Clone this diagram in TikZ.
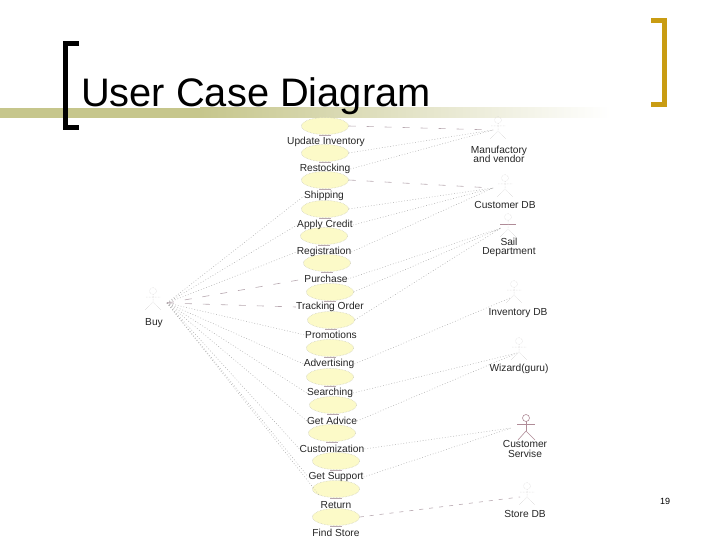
\documentclass[tikz,border=0pt]{standalone}
\usepackage{fontspec}
\setmainfont{Liberation Sans}
\definecolor{band}{HTML}{C6C68C}
\definecolor{gold}{HTML}{C99C12}
\definecolor{ucfill}{HTML}{FCFAC8}
\definecolor{ucline}{HTML}{C8C8B4}
\definecolor{dotline}{HTML}{ABABAB}
\definecolor{dashline}{HTML}{B8A8B0}
\definecolor{actorfaint}{HTML}{D8D6D6}
\definecolor{actorpink}{HTML}{B08C98}
\tikzset{
  usecase/.style={ellipse,draw=ucline,densely dotted,line width=.5pt,fill=ucfill,minimum width=47pt,minimum height=17pt,inner sep=0pt},
  uclabel/.style={font=\fontsize{10.2}{10.2}\selectfont,inner sep=0pt,text=black!85,align=center},
  dotlink/.style={draw=dotline,line width=.5pt,dash pattern=on .8pt off 2pt},
  dashlink/.style={draw=dashline,line width=.6pt,dash pattern=on 7pt off 11pt},
  tick/.style={draw=dashline,line width=.6pt},
  actorbody/.style={draw=actorfaint,line width=.5pt,densely dotted},
  actorstrong/.style={draw=actorpink,line width=.6pt},
}
\usetikzlibrary{shapes.geometric}
\newcommand{\stick}[3]{% name, x, y of the body's top
  \draw[actorbody] (#2,#3-5) circle (3.5);
  \draw[actorbody] (#2,#3-1.5) -- (#2,#3+6) (#2-7,#3+1) -- (#2+7,#3+1)
     (#2,#3+6) -- (#2-8,#3+14) (#2,#3+6) -- (#2+8,#3+14);
}
\begin{document}
\begin{tikzpicture}[x=1pt,y=-1pt]
\useasboundingbox (0,0) rectangle (720,540);
\fill[white] (0,0) rectangle (720,540);
% banner
\fill[band] (0,108) rectangle (200,118);
\shade[left color=band,right color=white,draw=none] (200,108) rectangle (610,118);
% brackets
\draw[black,line width=5pt] (79,44) -- (65.5,44) -- (65.5,128) -- (79,128);
\draw[gold,line width=5pt] (651,20.5) -- (664,20.5) -- (664,104.5) -- (651,104.5);
\node[anchor=base west,inner sep=0pt,font=\fontsize{39.8}{39.8}\selectfont] (title) at (81,107) {User Case Diagram};
\node[inner sep=0pt,font=\fontsize{9}{9}\selectfont] (pageno) at (665,501) {19};
% use cases
\foreach \n/\x/\y in {a/325/126,b/325/153,c/325/180,d/325/209,e/324/236,f/327/263,g/330/292,h/331/320,i/330/348,j/330/377,k/333/405,l/332/433,m/336/461,n/336/489,o/336/517}{
  \node[usecase] (\n) at (\x,\y) {};
  \draw[tick] (\x-6,\y+9) -- (\x+6,\y+9);
}
\node[uclabel] (la) at (326,142) {Update Inventory};
\node[uclabel] (lb) at (325,169) {Restocking};
\node[uclabel] (lc) at (324,196) {Shipping};
\node[uclabel] (ld) at (325,225) {Apply Credit};
\node[uclabel] (le) at (324,252) {Registration};
\node[uclabel] (lf) at (326,279) {Purchase};
\node[uclabel] (lg) at (330,307) {Tracking Order};
\node[uclabel] (lh) at (331,335) {Promotions};
\node[uclabel] (li) at (329,364) {Advertising};
\node[uclabel] (lj) at (330,393) {Searching};
\node[uclabel] (lk) at (332,421) {Get Advice};
\node[uclabel] (ll) at (332,449) {Customization};
\node[uclabel] (lm) at (336,477) {Get Support};
\node[uclabel] (ln) at (336,505) {Return};
\node[uclabel] (lo) at (336,533) {Find Store};
% actors
\stick{buy}{153}{296}
\stick{manu}{498}{125}
\stick{cust}{505}{183}
\stick{inv}{514}{289}
\stick{wiz}{519}{346}
\stick{store}{527}{491}
\draw[actorbody] (508,217) circle (3.5);
\draw[actorstrong] (500,224) -- (516,224);
\draw[actorbody] (508,220) -- (508,229) (508,229) -- (500,237) (508,229) -- (516,237);
\draw[actorstrong] (526,418) circle (3.5);
\draw[actorstrong] (517,424) -- (535,424) (526,421) -- (526,431);
\draw[actorstrong] (526,431) -- (518,440) (526,431) -- (535,440);
% where connectors meet the actors
\coordinate (buyp) at (167,303);
\coordinate (manup) at (493,130);
\coordinate (custp) at (493,188);
\coordinate (sailp) at (501,228);
\coordinate (invp) at (510,298);
\coordinate (wizp) at (517,353);
\coordinate (servp) at (511,428);
\coordinate (storep) at (520,497);
\node[uclabel] (lbuy) at (154,323) {Buy};
\node[uclabel] (lmanu) at (499,154) {Manufactory\\[-1pt]and vendor};
\node[uclabel] (lcust) at (505,205) {Customer DB};
\node[uclabel] (lsail) at (509,247) {Sail\\[-1pt]Department};
\node[uclabel] (linv) at (518,313) {Inventory DB};
\node[uclabel] (lwiz) at (519,369) {Wizard(guru)};
\node[uclabel] (lserv) at (525,449) {Customer\\[-1pt]Servise};
\node[uclabel] (lstore) at (525,514) {Store DB};
% connectors from the buyer
\foreach \t in {lc,ld,le,lh,li,lj,lk,ll,lm}{ \draw[dotlink] (buyp) -- (\t.west); }
\draw[dotlink] (buyp) -- (n.south west);
\draw[dashlink] (buyp) -- (lf.west);
\draw[dashlink] (buyp) -- (lg.west);
% connectors to the other actors
\draw[dashlink] (a.east) -- (manup);
\draw[dotlink] (b.east) -- (manup);
\draw[dotlink] (lb.east) -- (manup);
\draw[dashlink] (c.east) -- (custp);
\draw[dotlink] (d.east) -- (custp);
\draw[dotlink] (ld.east) -- (custp);
\draw[dotlink] (le.east) -- (custp);
\draw[dotlink] (lf.east) -- (sailp);
\draw[dotlink] (g.east) -- (sailp);
\draw[dotlink] (h.east) -- (sailp);
\draw[dotlink] (li.east) -- (invp);
\draw[dotlink] (lj.east) -- (wizp);
\draw[dotlink] (lk.east) -- (wizp);
\draw[dotlink] (ll.east) -- (servp);
\draw[dotlink] (lm.east) -- (servp);
\draw[dashlink,dash pattern=on 4pt off 6pt] (o.east) -- (storep);
\end{tikzpicture}
\end{document}
